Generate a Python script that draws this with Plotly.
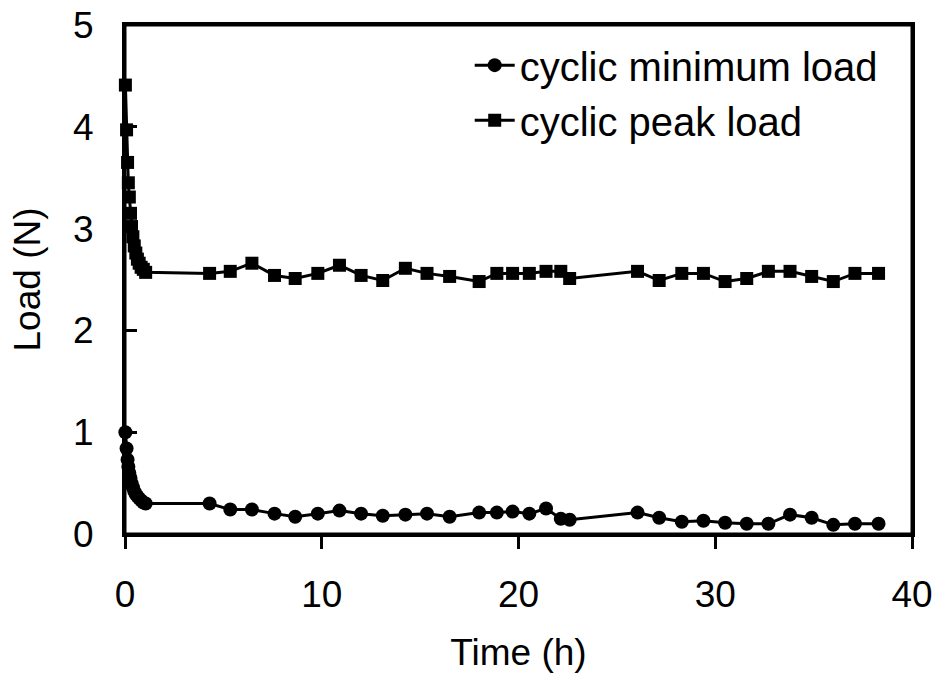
import plotly.graph_objects as go

# time (h), shared by both series
time_h = [0.02, 0.08, 0.13, 0.17, 0.22, 0.28, 0.33, 0.40, 0.47, 0.55, 0.63,
          0.72, 0.82, 0.93, 1.05,
          4.3, 5.35, 6.45, 7.6, 8.65, 9.8, 10.9, 12.0, 13.1, 14.25, 15.35,
          16.5, 18.0, 18.9, 19.7, 20.55, 21.4, 22.15, 22.6, 26.05, 27.15,
          28.3, 29.4, 30.5, 31.6, 32.7, 33.8, 34.9, 36.0, 37.1, 38.3]

min_load = [1.00, 0.84, 0.73, 0.66, 0.60, 0.55, 0.50, 0.46, 0.42, 0.39, 0.37,
            0.35, 0.33, 0.31, 0.30,
            0.30, 0.24, 0.24, 0.20, 0.17, 0.20, 0.23, 0.20, 0.18, 0.19, 0.20,
            0.17, 0.21, 0.21, 0.22, 0.20, 0.25, 0.15, 0.14, 0.21, 0.16,
            0.12, 0.13, 0.11, 0.10, 0.10, 0.19, 0.16, 0.09, 0.10, 0.10]

peak_load = [4.41, 3.97, 3.65, 3.45, 3.31, 3.15, 3.02, 2.92, 2.83, 2.76, 2.70,
             2.66, 2.62, 2.60, 2.57,
             2.56, 2.58, 2.66, 2.54, 2.51, 2.56, 2.64, 2.54, 2.49, 2.61, 2.56,
             2.53, 2.48, 2.56, 2.56, 2.56, 2.58, 2.58, 2.51, 2.58, 2.49,
             2.56, 2.56, 2.48, 2.51, 2.58, 2.58, 2.53, 2.48, 2.56, 2.56]

FONT = "Liberation Sans, Arial, sans-serif"

fig = go.Figure()

fig.add_trace(go.Scatter(
    x=time_h, y=min_load,
    mode='lines+markers',
    name='cyclic minimum load',
    line=dict(color='black', width=3),
    marker=dict(symbol='circle', size=14, color='black'),
    cliponaxis=False))

fig.add_trace(go.Scatter(
    x=time_h, y=peak_load,
    mode='lines+markers',
    name='cyclic peak load',
    line=dict(color='black', width=3),
    marker=dict(symbol='square', size=13, color='black'),
    cliponaxis=False))

# frame around the plot area
fig.add_shape(type='rect', xref='paper', yref='paper',
              x0=0, y0=0, x1=1, y1=1,
              line=dict(color='black', width=3), layer='above')

fig.update_layout(
    width=942, height=674,
    margin=dict(l=125, r=30, t=25, b=140),
    plot_bgcolor='white',
    paper_bgcolor='white',
    font=dict(family=FONT, size=37, color='black'),
    showlegend=True,
    legend=dict(
        x=0.438, y=0.985, xanchor='left', yanchor='top',
        bgcolor='rgba(0,0,0,0)',
        font=dict(size=40),
        tracegroupgap=0,
        itemwidth=40),
    xaxis=dict(
        range=[0, 40], dtick=10, automargin=False,
        showgrid=False, zeroline=False,
        showline=True, linecolor='black', linewidth=3, mirror=True,
        ticks='outside', ticklen=12, tickwidth=3, tickcolor='black',
        ticklabelstandoff=14, ticklabeloverflow='allow',
        title=dict(text='Time (h)', font=dict(size=37), standoff=25)),
    xaxis2=dict(
        range=[0, 40], dtick=5, overlaying='x', anchor='y', side='bottom',
        automargin=False,
        showgrid=False, zeroline=False, showline=False,
        ticks='inside', ticklen=8, tickwidth=3, tickcolor='black',
        showticklabels=False),
    yaxis=dict(
        range=[0, 5], dtick=1, automargin=False,
        showgrid=False, zeroline=False,
        showline=True, linecolor='black', linewidth=3, mirror=True,
        ticks='inside', ticklen=12, tickwidth=3, tickcolor='black',
        ticklabelstandoff=21, ticklabeloverflow='allow',
        title=dict(text='Load (N)', font=dict(size=37), standoff=22)))

# drop the default page margin so the figure sits at the window's corner
fig.write_html("out.html",
               config={'displayModeBar': False},
               post_script="document.body.style.margin='0';")
